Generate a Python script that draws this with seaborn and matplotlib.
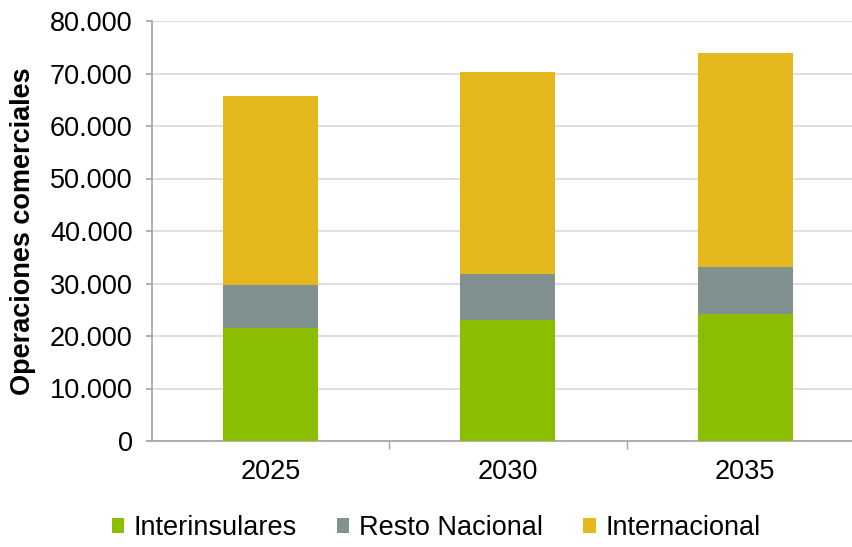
import matplotlib
matplotlib.use("Agg")
import matplotlib.pyplot as plt
import seaborn as sns
import pandas as pd
import numpy as np
from matplotlib.ticker import FuncFormatter, FixedLocator
from matplotlib.patches import Patch

years = ["2025", "2030", "2035"]
interinsulares = [21600, 23100, 24100]
resto_nacional = [8100, 8800, 9000]
internacional = [36000, 38400, 40900]
series_names = ["Interinsulares", "Resto Nacional", "Internacional"]
colors = ["#8BBD00", "#809190", "#E5B81E"]

sns.set_theme(style="white")
plt.rcParams['font.family'] = ['Liberation Sans', 'DejaVu Sans']

fig = plt.figure(figsize=(8.52, 5.47), dpi=100)
ax = fig.add_axes([152/852, 1-441/547, 1-152/852, 420/547])

df = pd.DataFrame({"year": years, "a": interinsulares, "b": resto_nacional, "c": internacional})
bottoms = np.zeros(len(years))
for i, (col, name, color) in enumerate(zip(["a", "b", "c"], series_names, colors)):
    vals = df[col].values
    sns.barplot(x=df["year"], y=bottoms + vals, color=color, ax=ax, width=0.4,
                saturation=1, zorder=5 - i, edgecolor="none")
    bottoms = bottoms + vals

ax.set_ylim(0, 80000)
ax.set_xlim(-0.5, 2.45)
ax.yaxis.set_major_locator(FixedLocator(np.arange(0, 80001, 10000)))
ax.yaxis.set_major_formatter(FuncFormatter(lambda v, p: f"{int(v):,}".replace(",", ".")))
ax.grid(axis="y", color="#D9D9D9", linewidth=1.2, zorder=0)
ax.set_axisbelow(True)
for s in ["top", "right"]:
    ax.spines[s].set_visible(False)
ax.spines["left"].set_color("#A6A6A6")
ax.spines["bottom"].set_color("#A6A6A6")
ax.tick_params(axis="y", labelsize=19.5, length=4, color="#A6A6A6", direction="out", left=True, pad=10, labelcolor="black")
ax.tick_params(axis="x", labelsize=19.5, length=0, pad=13, labelcolor="black")
ax.set_xticks([0, 1, 2])
ax.set_xticklabels(years)
ax.set_xticks([0.5, 1.5], minor=True)
ax.tick_params(axis="x", which="minor", length=6, color="#A6A6A6", bottom=True, direction="out")
ax.set_xlabel("")
ax.set_ylabel("Operaciones comerciales", fontsize=19.5, fontweight="bold", color="black")
ax.yaxis.set_label_coords(-0.165, 0.5)

handles = [Patch(facecolor=c, edgecolor="none") for c in colors]
leg = fig.legend(handles, series_names, loc="center", bbox_to_anchor=(436/852, 1-528/547), ncol=3,
           frameon=False, fontsize=19.5, handlelength=0.45, handleheight=0.5, handletextpad=0.35,
           columnspacing=1.5, borderpad=0, borderaxespad=0)
for t in leg.get_texts():
    t.set_color("black")

fig.savefig("out.png", dpi=100)
